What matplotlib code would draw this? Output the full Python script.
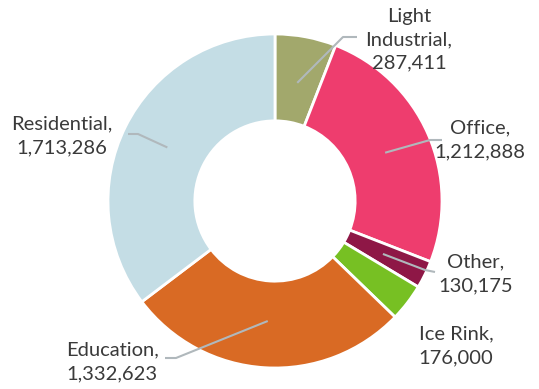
import numpy as np
import matplotlib
matplotlib.use("Agg")
import matplotlib.pyplot as plt

plt.rcParams['font.family'] = ['Lato', 'DejaVu Sans']

categories = ["Light\nIndustrial", "Office", "Other", "Ice Rink", "Education", "Residential"]
values = [287411, 1212888, 130175, 176000, 1332623, 1713286]
colors = ["#a2a86c", "#ee3d6e", "#8e1746", "#77c023", "#d96a24", "#c4dde5"]

W, H = 539, 389
cx, cy, R = 275, H - 201, 167
hole = 0.48

# label placement (pixels, y from top) and leader knee / end points
label_xy = [(409, 40), (480, 140), (476, 274), (456, 346), (112, 362), (62, 136)]
leaders = [((343, 37), (357, 37)),
           ((430, 140), (442, 140)),
           ((425, 270), (435, 272)),
           None,
           ((176, 358), (165, 358)),
           ((138, 134), (128, 134))]


def main():
    fig = plt.figure(figsize=(W / 100, H / 100), dpi=100)
    ax = fig.add_axes([0, 0, 1, 1])

    wedges, _ = ax.pie(values, colors=colors, startangle=90, counterclock=False,
                       center=(cx, cy), radius=R, frame=True,
                       wedgeprops=dict(width=R * (1 - hole), edgecolor="white", linewidth=2))
    ax.set_xlim(0, W)
    ax.set_ylim(0, H)
    ax.set_aspect("equal")
    ax.axis("off")

    for w, name, val, (lx, ly), ld in zip(wedges, categories, values, label_xy, leaders):
        ax.text(lx, H - ly, f"{name},\n{val:,}", ha="center", va="center",
                fontsize=14.5, color="#3a3a3a", linespacing=1.45)
        if ld is None:
            continue
        mid = np.deg2rad((w.theta1 + w.theta2) / 2)
        sx = cx + 0.72 * R * np.cos(mid)
        sy = cy + 0.72 * R * np.sin(mid)
        (kx, ky), (ex, ey) = ld
        ax.plot([sx, kx, ex], [sy, H - ky, H - ey], color="#b0b8bc", lw=1.5,
                solid_capstyle="butt")

    fig.savefig("out.png", dpi=100)


if __name__ == "__main__":
    main()
